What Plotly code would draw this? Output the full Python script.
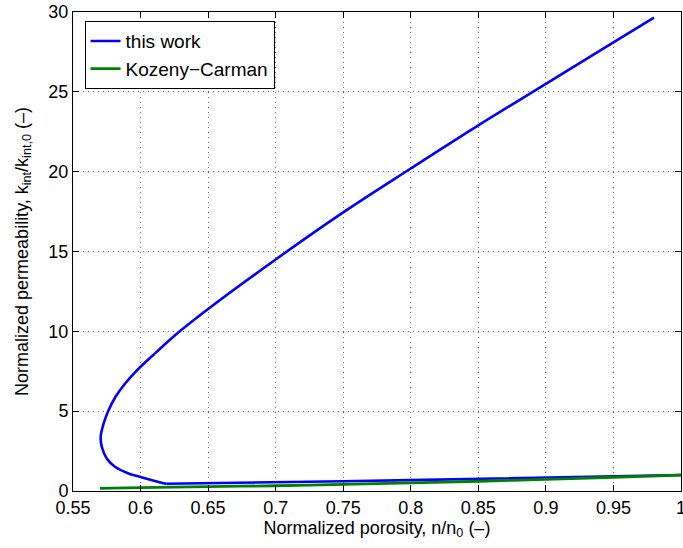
import plotly.graph_objects as go

# Data
# "this work": upper branch and nose (smooth part)
this_work_curve_x = [0.980, 0.95, 0.90, 0.85, 0.80, 0.75, 0.70, 0.65, 0.629, 0.6117,
                     0.5973, 0.5886, 0.5815, 0.5760, 0.5727, 0.5705, 0.5713, 0.575,
                     0.5811, 0.5911, 0.600, 0.6059, 0.612, 0.619]
this_work_curve_y = [29.65, 28.1, 25.5, 22.9, 20.2, 17.45, 14.5, 11.4, 10.0, 8.7,
                     7.56, 6.73, 5.9, 5.0, 4.23, 3.4, 2.77, 2.04,
                     1.52, 1.1, 0.88, 0.74, 0.60, 0.45]
# "this work": nearly straight lower branch
this_work_line_x = [0.619, 0.70, 0.75, 0.80, 0.85, 0.90, 0.95, 1.00]
this_work_line_y = [0.45, 0.53, 0.61, 0.68, 0.76, 0.85, 0.93, 1.00]

kc_x = [0.57, 0.60, 0.65, 0.70, 0.75, 0.80, 0.85, 0.90, 0.95, 1.00]
kc_y = [0.17, 0.21, 0.27, 0.33, 0.42, 0.51, 0.61, 0.73, 0.86, 1.00]

x_ticks = [0.55, 0.6, 0.65, 0.7, 0.75, 0.8, 0.85, 0.9, 0.95, 1.0]
x_tick_labels = ["0.55", "0.6", "0.65", "0.7", "0.75", "0.8", "0.85", "0.9", "0.95", "1"]
y_ticks = [0, 5, 10, 15, 20, 25, 30]

FONT = "Liberation Sans, Arial, Helvetica, sans-serif"
BLUE = "rgb(0,0,255)"
GREEN = "rgb(0,128,0)"

fig = go.Figure()
fig.add_trace(go.Scatter(x=this_work_curve_x, y=this_work_curve_y, mode="lines",
                         name="this work", legendgroup="tw",
                         line=dict(color=BLUE, width=2.6, shape="spline", smoothing=1.0)))
fig.add_trace(go.Scatter(x=this_work_line_x, y=this_work_line_y, mode="lines",
                         name="this work", legendgroup="tw", showlegend=False,
                         line=dict(color=BLUE, width=2.6)))
fig.add_trace(go.Scatter(x=kc_x, y=kc_y, mode="lines", name="Kozeny\u2212Carman",
                         line=dict(color=GREEN, width=2.8, shape="spline", smoothing=0.5)))

axis_common = dict(
    showline=True, linecolor="black", linewidth=1, mirror="ticks",
    ticks="inside", ticklen=6, tickcolor="black", tickwidth=1,
    showgrid=True, gridcolor="rgba(0,0,0,0.6)", griddash="1px,4px", gridwidth=1,
    zeroline=False, automargin=False, ticklabeloverflow="allow",
    tickfont=dict(family=FONT, size=18, color="black"),
)

fig.update_xaxes(range=[0.55, 1.0], tickvals=x_ticks, ticktext=x_tick_labels,
                 title=dict(text="Normalized porosity, n/n<sub>0</sub> (\u2013)",
                            font=dict(family=FONT, size=18, color="black"), standoff=0),
                 **axis_common)
fig.update_yaxes(range=[0, 30], tickvals=y_ticks,
                 title=dict(text="Normalized permeability, k<sub>int</sub>/k<sub>int,0</sub> (\u2013)",
                            font=dict(family=FONT, size=18, color="black"), standoff=15),
                 **axis_common)

fig.update_layout(
    width=683, height=548,
    margin=dict(l=73, r=2, t=12, b=57),
    paper_bgcolor="white", plot_bgcolor="white",
    font=dict(family=FONT, size=18, color="black"),
    showlegend=True,
    legend=dict(x=0.019, y=0.981, xanchor="left", yanchor="top",
                bgcolor="white", bordercolor="black", borderwidth=1,
                font=dict(family=FONT, size=19, color="black"),
                tracegroupgap=0),
)

fig.write_html("out.html", config={"displayModeBar": False},
               post_script="document.body.style.margin='0';document.body.style.overflow='hidden';")
